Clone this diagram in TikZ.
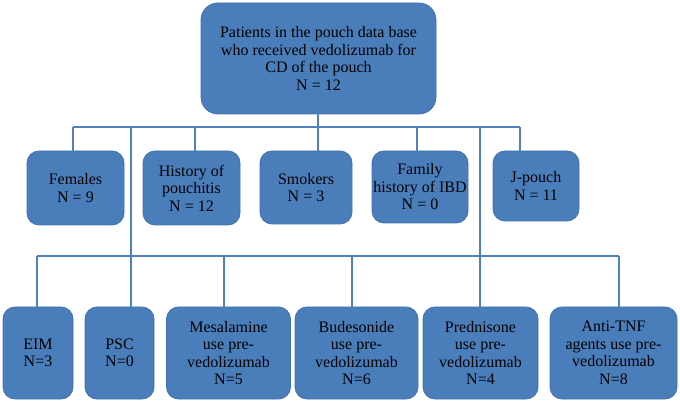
\documentclass[tikz,border=0pt]{standalone}
\usepackage{fontspec}
\setmainfont{Liberation Serif}
\usetikzlibrary{positioning,calc}
\definecolor{boxBlue}{RGB}{74,126,187}
\definecolor{boxEdge}{RGB}{66,114,172}
\definecolor{lineBlue}{RGB}{79,129,189}
\tikzset{
  groupBox/.style={rectangle,rounded corners=12pt,draw=boxEdge,fill=boxBlue,line width=0.8pt,
    inner sep=0pt,align=center,font=\rmfamily\fontsize{16}{17.5}\selectfont},
  cohortBox/.style={groupBox,rounded corners=17pt},
  link/.style={draw=lineBlue,line width=1.1pt},
}

\begin{document}
\begin{tikzpicture}[x=1pt,y=-1pt]
\useasboundingbox (0,0) rectangle (680,403);

% ===== Cohort =====
\node[cohortBox,minimum width=235pt,minimum height=111pt] (cohort) at (318.5,58.5)
  {Patients in the pouch data base\\who received vedolizumab for\\CD of the pouch\\N = 12};

% ===== Baseline characteristics =====
\node[groupBox,minimum width=97pt,minimum height=74pt] (females) at (75.5,188) {Females\\N = 9};
\node[groupBox,minimum width=97pt,minimum height=74pt] (pouchitis) at (191.5,188) {History of\\pouchitis\\N = 12};
\node[groupBox,minimum width=92pt,minimum height=73pt] (smokers) at (306,187.5) {Smokers\\N = 3};
\node[groupBox,minimum width=96pt,minimum height=72pt] (familyIBD) at (420,187) {Family\\history of IBD\\N = 0};
\node[groupBox,minimum width=86pt,minimum height=70pt] (jpouch) at (536,186) {J-pouch\\N = 11};

% ===== Disease and treatment history =====
\node[groupBox,minimum width=70pt,minimum height=92pt] (eim) at (38,353) {EIM\\N=3};
\node[groupBox,minimum width=69pt,minimum height=92pt] (psc) at (119.5,353) {PSC\\N=0};
\node[groupBox,minimum width=124pt,minimum height=92pt] (mesalamine) at (228.5,353) {Mesalamine\\use pre-\\vedolizumab\\N=5};
\node[groupBox,minimum width=123pt,minimum height=92pt] (budesonide) at (356.5,353) {Budesonide\\use pre-\\vedolizumab\\N=6};
\node[groupBox,minimum width=115pt,minimum height=92pt] (prednisone) at (480.5,353) {Prednisone\\use pre-\\vedolizumab\\N=4};
\node[groupBox,minimum width=127pt,minimum height=92pt] (antiTNF) at (613.5,353) {Anti-TNF\\agents use pre-\\vedolizumab\\N=8};

% ===== Bus lines =====
\coordinate (busTop) at (318,127);
\coordinate (busTopL) at (73,127);
\coordinate (busTopR) at (520,127);
\coordinate (busLow) at (131,256);
\coordinate (busLowL) at (37,256);
\coordinate (busLowR) at (619,256);
\draw[link] (cohort.south -| busTop) -- (busTop);
\draw[link] (busTopL) -- (busTopR);
\draw[link] (busLowL) -- (busLowR);
\draw[link] (131,127) -- (busLow);
\draw[link] (480,127) -- (480,256);

% ===== Drops =====
\foreach \x/\n in {73/females,195/pouchitis,318/smokers,417/familyIBD,520/jpouch} {
  \coordinate (d\n) at (\x,127);
  \draw[link] (d\n) -- (d\n |- \n.north);
}
\foreach \x/\n in {37/eim,131/psc,224/mesalamine,352/budesonide,480/prednisone,619/antiTNF} {
  \coordinate (d\n) at (\x,256);
  \draw[link] (d\n) -- (d\n |- \n.north);
}

\end{tikzpicture}
\end{document}
